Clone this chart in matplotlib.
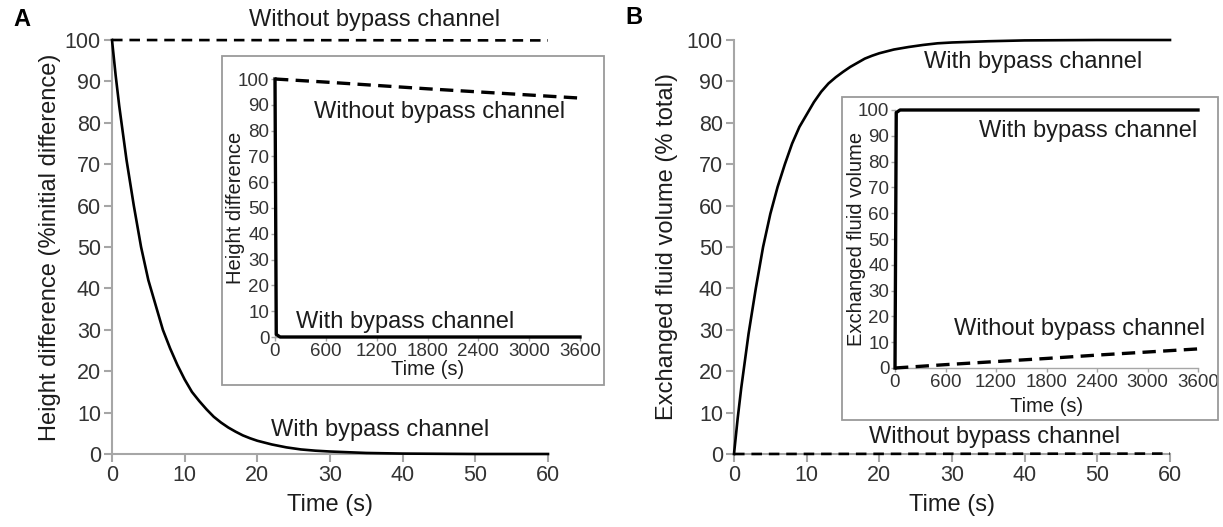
import matplotlib
matplotlib.use("Agg")
import matplotlib.pyplot as plt
from matplotlib.patches import Rectangle

plt.rcParams['font.family'] = ['Liberation Sans', 'DejaVu Sans']

# ---------------- data ----------------
t_main = [0, 0.5, 1, 2, 3, 4, 5, 6, 7, 8, 9, 10, 11, 12, 13, 14, 15, 16, 17, 18, 19, 20,
          22, 24, 26, 28, 30, 35, 40, 50, 60]
height_with = [100, 91.5, 84, 71, 60, 50, 42, 36, 30, 25.5, 21.5, 18, 15, 12.8, 10.8, 9, 7.6,
               6.4, 5.4, 4.5, 3.8, 3.2, 2.3, 1.6, 1.1, 0.8, 0.6, 0.25, 0.1, 0, 0]
height_without_t = [0, 60]
height_without = [100, 99.9]

volume_with = [0, 8.5, 16, 29, 40, 50, 58, 64.5, 70, 75, 79, 82, 85, 87.5, 89.5, 91, 92.3,
               93.5, 94.5, 95.5, 96.2, 96.8, 97.7, 98.3, 98.8, 99.2, 99.4, 99.7, 99.9, 100, 100]
volume_without_t = [0, 60]
volume_without = [0, 0.1]

t_inset = [0, 600, 1200, 1800, 2400, 3000, 3600]
inset_height_without = [100, 98.8, 97.5, 96.2, 95.0, 93.8, 92.6]
inset_volume_without = [0, 1.3, 2.5, 3.7, 5.0, 6.2, 7.4]
t_inset_fast = [0, 15, 60, 3600]
inset_height_with = [100, 1, 0, 0]
inset_volume_with = [0, 99, 100, 100]

main_xticks = [0, 10, 20, 30, 40, 50, 60]
yticks = [0, 10, 20, 30, 40, 50, 60, 70, 80, 90, 100]
inset_xticks = [0, 600, 1200, 1800, 2400, 3000, 3600]

# ---------------- layout ----------------
W, H = 1223, 527
fig = plt.figure(figsize=(W / 100, H / 100), dpi=100)

def fx(px):
    return px / W

def fy(py):
    return 1 - py / H

def axes_px(x0, x1, ytop, ybot):
    return fig.add_axes([fx(x0), fy(ybot), fx(x1) - fx(x0), fy(ytop) - fy(ybot)])

SPINE = '#a6a6a6'
TXT = '#1c1c1c'
TICKTXT = '#333333'

def style(ax, fs_tick, ticklen, lw_spine, pad):
    for s in ['top', 'right']:
        ax.spines[s].set_visible(False)
    for s in ['left', 'bottom']:
        ax.spines[s].set_color(SPINE)
        ax.spines[s].set_linewidth(lw_spine)
    ax.tick_params(axis='both', colors=SPINE, labelcolor=TICKTXT, labelsize=fs_tick,
                   length=ticklen, width=lw_spine, direction='out', pad=pad)
    ax.patch.set_alpha(0)

LW_MAIN = 1.9
LW_INSET = 2.4

# ---- main A ----
axA = axes_px(112, 548, 40, 454)
style(axA, 15.5, 6, 1.5, 2)
axA.plot(t_main, height_with, color='black', lw=LW_MAIN, clip_on=False, zorder=3,
         solid_joinstyle='round')
axA.plot(height_without_t, height_without, color='black', lw=LW_MAIN, dashes=(4, 2.6),
         clip_on=False, zorder=3)
axA.set_xlim(0, 60)
axA.set_ylim(0, 100)
axA.set_xticks(main_xticks)
axA.set_yticks(yticks)
axA.set_xlabel('Time (s)', fontsize=17, color=TXT)
axA.set_ylabel('Height difference (%initial difference)', fontsize=17, color=TXT)
axA.xaxis.set_label_coords(0.5, -0.097)
axA.yaxis.set_label_coords(-0.117, 0.5)
axA.text(36.2, 104.8, 'Without bypass channel', fontsize=17, color=TXT,
         ha='center', va='center', clip_on=False)
axA.text(36.9, 5.8, 'With bypass channel', fontsize=17, color=TXT,
         ha='center', va='center')

# ---- inset A ----
fig.patches.append(Rectangle((fx(222), fy(385)), fx(604) - fx(222), fy(56) - fy(385),
                             transform=fig.transFigure, fill=False, edgecolor='#9a9a9a',
                             lw=1.3, zorder=1))
axAi = axes_px(275, 580, 79, 337)
style(axAi, 13.5, 3, 1.0, 1)
axAi.plot(t_inset_fast, inset_height_with, color='black', lw=LW_INSET, clip_on=False,
          zorder=3)
axAi.plot(t_inset, inset_height_without, color='black', lw=LW_INSET, dashes=(4, 2.2),
          clip_on=False, zorder=3)
axAi.set_xlim(0, 3600)
axAi.set_ylim(0, 100)
axAi.set_xticks(inset_xticks)
axAi.set_yticks(yticks)
axAi.set_xlabel('Time (s)', fontsize=14.5, color=TXT)
axAi.set_ylabel('Height difference', fontsize=14.5, color=TXT)
axAi.xaxis.set_label_coords(0.5, -0.089)
axAi.yaxis.set_label_coords(-0.098, 0.5)
axAi.text(1948, 87.2, 'Without bypass channel', fontsize=17, color=TXT,
          ha='center', va='center')
axAi.text(1534, 5.8, 'With bypass channel', fontsize=17, color=TXT,
          ha='center', va='center')

# ---- main B ----
axB = axes_px(734, 1170, 40, 454)
style(axB, 15.5, 6, 1.5, 2)
axB.plot(t_main, volume_with, color='black', lw=LW_MAIN, clip_on=False, zorder=3,
         solid_joinstyle='round')
axB.plot(volume_without_t, volume_without, color='black', lw=LW_MAIN, dashes=(4, 2.6),
         clip_on=False, zorder=3)
axB.set_xlim(0, 60)
axB.set_ylim(0, 100)
axB.set_xticks(main_xticks)
axB.set_yticks(yticks)
axB.set_xlabel('Time (s)', fontsize=17, color=TXT)
axB.set_ylabel('Exchanged fluid volume (% total)', fontsize=17, color=TXT)
axB.xaxis.set_label_coords(0.5, -0.097)
axB.yaxis.set_label_coords(-0.128, 0.5)
axB.text(41.1, 94.7, 'With bypass channel', fontsize=17, color=TXT,
         ha='center', va='center')
axB.text(35.9, 4.1, 'Without bypass channel', fontsize=17, color=TXT,
         ha='center', va='center')

# ---- inset B ----
fig.patches.append(Rectangle((fx(842), fy(420)), fx(1218) - fx(842), fy(97) - fy(420),
                             transform=fig.transFigure, fill=False, edgecolor='#9a9a9a',
                             lw=1.3, zorder=1))
axBi = axes_px(895, 1198, 110, 368)
style(axBi, 13.5, 3, 1.0, 1)
axBi.plot(t_inset_fast, inset_volume_with, color='black', lw=LW_INSET, clip_on=False,
          zorder=3)
axBi.plot(t_inset, inset_volume_without, color='black', lw=LW_INSET, dashes=(4, 2.2),
          clip_on=False, zorder=3)
axBi.set_xlim(0, 3600)
axBi.set_ylim(0, 100)
axBi.set_xticks(inset_xticks)
axBi.set_yticks(yticks)
axBi.set_xlabel('Time (s)', fontsize=14.5, color=TXT)
axBi.set_ylabel('Exchanged fluid volume', fontsize=14.5, color=TXT)
axBi.xaxis.set_label_coords(0.5, -0.112)
axBi.yaxis.set_label_coords(-0.096, 0.5)
axBi.text(2293, 91.9, 'With bypass channel', fontsize=17, color=TXT,
          ha='center', va='center')
axBi.text(2198, 15.1, 'Without bypass channel', fontsize=17, color=TXT,
          ha='center', va='center')

# panel letters
fig.text(fx(22), fy(20), 'A', fontsize=17, fontweight='bold', color='black',
         ha='center', va='center')
fig.text(fx(634), fy(18), 'B', fontsize=17, fontweight='bold', color='black',
         ha='center', va='center')

fig.savefig('out.png', dpi=100)
